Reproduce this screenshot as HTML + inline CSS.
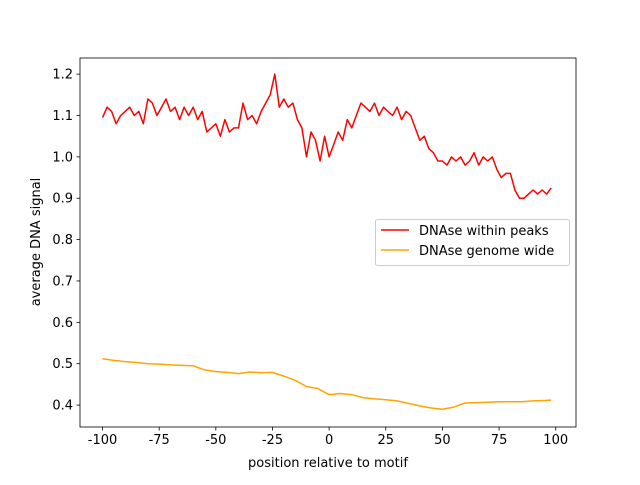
<!DOCTYPE html>
<html><head><meta charset="utf-8"><style>
body{margin:0;background:#fff}
svg text{font-family:"DejaVu Sans","Liberation Sans",sans-serif;font-size:13px;fill:#000}
</style></head><body>
<svg id="chart" width="640" height="480" xmlns="http://www.w3.org/2000/svg"></svg>
<script>
const redX=[];for(let i=-100;i<=98;i+=2)redX.push(i);
const redVals=[1.095,1.12,1.11,1.08,1.10,1.11,1.12,1.10,1.11,1.08,1.14,1.13,1.10,1.12,1.14,1.11,1.12,1.09,1.12,1.10,1.12,1.09,1.11,1.06,1.07,1.08,1.05,1.09,1.06,1.07,1.07,1.13,1.09,1.10,1.08,1.11,1.13,1.15,1.20,1.12,1.14,1.12,1.13,1.09,1.07,1.00,1.06,1.04,0.99,1.05,1.00,1.03,1.06,1.04,1.09,1.07,1.10,1.13,1.12,1.11,1.13,1.10,1.12,1.11,1.10,1.12,1.09,1.11,1.10,1.07,1.04,1.05,1.02,1.01,0.99,0.99,0.98,1.00,0.99,1.00,0.98,0.99,1.01,0.98,1.00,0.99,1.00,0.97,0.95,0.96,0.96,0.92,0.90,0.90,0.91,0.92,0.91,0.92,0.91,0.925];
const orangeX=[-100,-95,-90,-85,-80,-75,-70,-65,-60,-55,-50,-45,-40,-35,-30,-25,-20,-15,-10,-5,0,5,10,15,20,25,30,35,40,45,50,55,60,65,70,75,80,85,90,95,98];
const orangeVals=[0.512,0.508,0.505,0.503,0.500,0.499,0.497,0.496,0.495,0.485,0.481,0.479,0.476,0.480,0.478,0.479,0.470,0.460,0.445,0.440,0.425,0.428,0.425,0.418,0.415,0.413,0.410,0.404,0.398,0.393,0.390,0.395,0.405,0.406,0.407,0.408,0.408,0.408,0.410,0.411,0.412];
const xTicks=[-100,-75,-50,-25,0,25,50,75,100];
const yTicks=[0.4,0.5,0.6,0.7,0.8,0.9,1.0,1.1,1.2];
const L=80,R=576,T=58,B=427,xmin=-109.95,xmax=108.95,ymin=0.347,ymax=1.239;
const sx=v=>L+(v-xmin)/(xmax-xmin)*(R-L), sy=v=>B-(v-ymin)/(ymax-ymin)*(B-T);
const svg=document.getElementById('chart');const NS='http://www.w3.org/2000/svg';
function mk(t,a,p){const e=document.createElementNS(NS,t);for(const k in a)e.setAttribute(k,a[k]);(p||svg).appendChild(e);return e;}
function line(xs,ys,col,name){const d=xs.map((x,i)=>(i?'L':'M')+sx(x).toFixed(1)+','+sy(ys[i]).toFixed(1)).join('');
const p=mk('path',{d:d,fill:'none',stroke:col,'stroke-width':1.5,'stroke-linejoin':'round'});

}
line(redX,redVals,'#ff0000','series-dnase-within-peaks');
line(orangeX,orangeVals,'#ffa500','series-dnase-genome-wide');
const fr=mk('rect',{x:L,y:T,width:R-L,height:B-T,fill:'none',stroke:'#000','stroke-width':0.8});


xTicks.forEach(v=>{const x=sx(v);mk('line',{x1:x,x2:x,y1:B,y2:B+3.5,stroke:'#000','stroke-width':0.8});
const t=mk('text',{x:x,y:B+17,'text-anchor':'middle'});t.textContent=v;

});
yTicks.forEach(v=>{const y=sy(v);mk('line',{x1:L-3.5,x2:L,y1:y,y2:y,stroke:'#000','stroke-width':0.8});
const t=mk('text',{x:L-7,y:y+4.5,'text-anchor':'end'});t.textContent=v.toFixed(1);

});
const xt=mk('text',{x:(L+R)/2,y:467,'text-anchor':'middle'});xt.textContent='position relative to motif';


const yt=mk('text',{x:0,y:0,'text-anchor':'middle',transform:'translate(40,242) rotate(-90)'});yt.textContent='average DNA signal';


const lg=mk('g',{});


mk('rect',{x:375.5,y:219.5,width:194,height:46,rx:2,fill:'#fff',stroke:'#ccc','stroke-width':1},lg);
[['DNAse within peaks','#ff0000',230],['DNAse genome wide','#ffa500',250]].forEach(([n,c,y])=>{
mk('line',{x1:381,x2:409,y1:y,y2:y,stroke:c,'stroke-width':1.5},lg);
const t=mk('text',{x:419,y:y+5},lg);t.textContent=n;

});
</script>
</body></html>
